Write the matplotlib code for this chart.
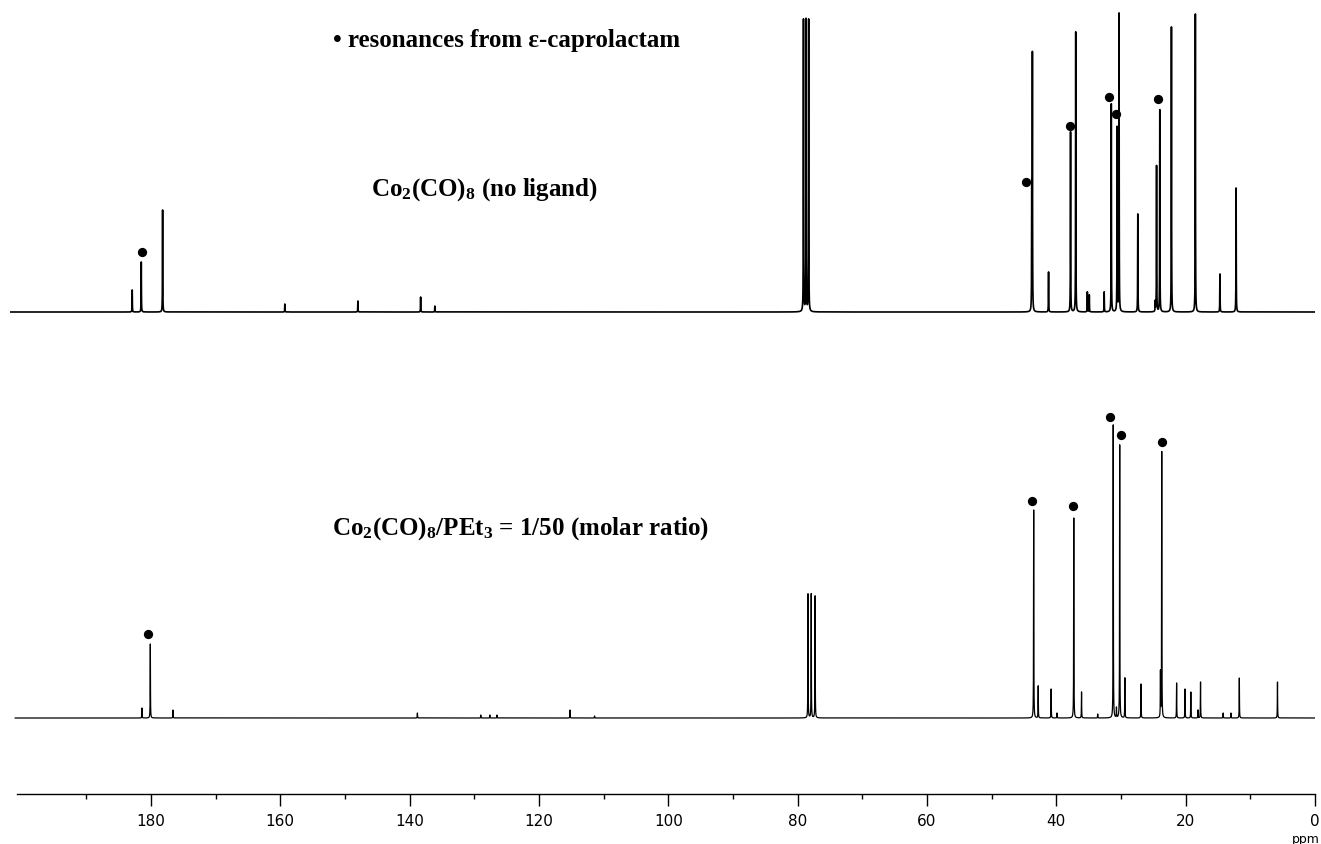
import matplotlib.pyplot as plt
import numpy as np

plt.rcParams['mathtext.fontset'] = 'custom'
plt.rcParams['mathtext.rm'] = 'Liberation Serif:bold'
plt.rcParams['mathtext.it'] = 'Liberation Serif:bold'
plt.rcParams['mathtext.bf'] = 'Liberation Serif:bold'
plt.rcParams['mathtext.default'] = 'rm'

# upper trace: Co2(CO)8, no ligand  (ppm, peak height)
top_ppm = [182.9, 181.5, 178.2, 159.3, 148.0, 138.3, 136.1,
           79.1, 78.7, 78.3,
           43.8, 43.7, 41.2, 37.8, 37.0, 35.2, 34.9, 32.6, 31.5, 30.6, 30.3,
           27.4, 24.7, 24.5, 24.0, 22.2, 18.5, 14.7, 12.2]
top_h = [22, 50, 102, 8, 11, 15, 6,
         292, 292, 292,
         121, 255, 40, 180, 280, 20, 17, 20, 208, 184, 298,
         98, 10, 146, 202, 285, 298, 38, 124]
# caprolactam markers on upper trace
top_dot_ppm = [181.4, 44.7, 37.9, 31.8, 30.7, 24.3]
top_dot_h = [60, 130, 186, 215, 198, 213]

# lower trace: Co2(CO)8/PEt3 = 1/50
bot_ppm = [181.4, 180.1, 176.6, 138.8, 129.0, 127.6, 126.5, 115.2, 111.4,
           78.4, 77.9, 77.3,
           43.5, 42.8, 40.8, 39.9, 37.3, 36.1, 33.6, 31.2, 30.7, 30.2, 29.4,
           26.9, 23.9, 23.7, 21.4, 20.1, 19.2, 18.1, 17.7, 14.2, 13.0, 11.7, 5.8]
bot_h = [10, 74, 8, 5, 3, 3, 3, 8, 2,
         124, 124, 122,
         208, 32, 29, 5, 200, 26, 4, 293, 10, 273, 40,
         34, 45, 266, 35, 29, 26, 8, 36, 5, 5, 40, 36]
bot_dot_ppm = [180.5, 43.7, 37.4, 31.7, 30.0, 23.7]
bot_dot_h = [84, 217, 212, 301, 283, 276]

major_ticks = [0, 20, 40, 60, 80, 100, 120, 140, 160, 180]
minor_ticks = [10, 30, 50, 70, 90, 110, 130, 150, 170, 190]


def trace(ppm, h, lo, hi, w=0.022):
    grid = np.union1d(np.arange(lo, hi, 0.004), ppm)
    y = np.zeros_like(grid)
    for p, a in zip(ppm, h):
        y += a * w**2 / ((grid - p)**2 + w**2)
    return grid, y


W, H = 1321, 845
fig = plt.figure(figsize=(W / 100, H / 100), dpi=100)


def box(left, top, right, bottom):
    return [left / W, 1 - bottom / H, (right - left) / W, (bottom - top) / H]


ax_top = fig.add_axes(box(10, 0, 1315, 330))
ax_bot = fig.add_axes(box(10, 380, 1315, 795))

x, y = trace(top_ppm, top_h, 0, 201.8)
ax_top.plot(x, y, color='black', lw=1.2)
ax_top.scatter(top_dot_ppm, top_dot_h, s=32, color='black', zorder=3)
ax_top.set_ylim(-17, 313)

x, y = trace(bot_ppm, bot_h, 0, 201.0)
ax_bot.plot(x, y, color='black', lw=0.9)
ax_bot.scatter(bot_dot_ppm, bot_dot_h, s=32, color='black', zorder=3)
ax_bot.set_ylim(-76, 339)

for ax in (ax_top, ax_bot):
    ax.set_xlim(201.8, 0)
    ax.patch.set_visible(False)
    for s in ax.spines.values():
        s.set_visible(False)
    ax.set_yticks([])

ax_top.set_xticks([])

ax_bot.spines['bottom'].set_visible(True)
ax_bot.spines['bottom'].set_bounds(200.7, 0)
ax_bot.spines['bottom'].set_linewidth(1.0)
ax_bot.set_xticks(major_ticks)
ax_bot.set_xticks(minor_ticks, minor=True)
ax_bot.tick_params(axis='x', which='major', direction='out', length=8.5,
                   width=1, pad=5, labelsize=11)
ax_bot.tick_params(axis='x', which='minor', direction='out', length=3.5, width=1)

serif = dict(family='Liberation Serif', weight='bold', fontsize=18,
             ha='center', va='center')
fig.text(507 / W, 1 - 40 / H, '\u2022 resonances from \u03b5-caprolactam', **serif)
fig.text(485 / W, 1 - 190 / H, 'Co$_2$(CO)$_8$ (no ligand)', **serif)
fig.text(521 / W, 1 - 529 / H, 'Co$_2$(CO)$_8$/PEt$_3$ = 1/50 (molar ratio)', **serif)
fig.text(1320 / W, 1 - 840 / H, 'ppm', ha='right', va='center', fontsize=9)

plt.savefig('out.png', dpi=100)
